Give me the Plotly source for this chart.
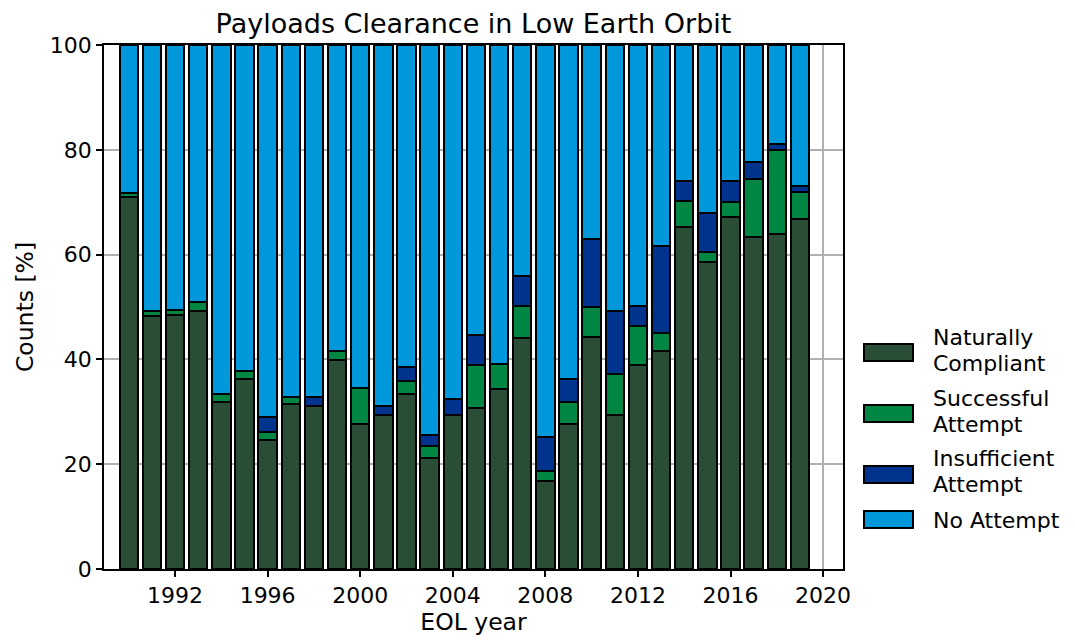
import plotly.graph_objects as go

years = list(range(1990, 2020))

naturally_compliant = [71.0, 48.3, 48.4, 49.2, 31.8, 36.2, 24.6, 31.5, 31.1, 39.8,
                       27.7, 29.3, 33.4, 21.2, 29.4, 30.7, 34.3, 44.1, 16.8, 27.7,
                       44.2, 29.4, 38.9, 41.6, 65.3, 58.5, 67.1, 63.3, 63.9, 66.8]
successful_attempt = [0.8, 0.9, 1.1, 1.8, 1.6, 1.6, 1.5, 1.4, 0.0, 1.8,
                      6.8, 0.0, 2.5, 2.3, 0.0, 8.2, 4.9, 6.0, 1.9, 4.2,
                      5.8, 7.8, 7.4, 3.4, 5.0, 2.0, 3.0, 11.2, 16.1, 5.2]
insufficient_attempt = [0.0, 0.0, 0.0, 0.0, 0.0, 0.0, 3.0, 0.0, 1.7, 0.0,
                        0.0, 1.8, 2.7, 2.1, 3.1, 5.7, 0.0, 5.8, 6.5, 4.4,
                        13.0, 12.0, 3.9, 16.7, 3.8, 7.4, 4.0, 3.2, 1.1, 1.0]
no_attempt = [28.2, 50.8, 50.5, 49.0, 66.6, 62.2, 70.9, 67.1, 67.2, 58.4,
              65.5, 68.9, 61.4, 74.4, 67.5, 55.4, 60.8, 44.1, 74.8, 63.7,
              37.0, 50.8, 49.8, 38.3, 25.9, 32.1, 25.9, 22.3, 18.9, 27.0]

labels = [["Naturally", "Compliant"], ["Successful", "Attempt"],
          ["Insufficient", "Attempt"], ["No Attempt"]]
colors = ["#2a4d35", "#008542", "#00338d", "#0098db"]

font_family = "DejaVu Sans, Verdana, sans-serif"

fig = go.Figure()
for lab, vals, color in zip(labels, [naturally_compliant, successful_attempt,
                                     insufficient_attempt, no_attempt], colors):
    fig.add_trace(go.Bar(x=years, y=vals, name=" ".join(lab), width=0.8, showlegend=False,
                         marker=dict(color=color, line=dict(color="black", width=2))))

# hand-made legend (bigger swatches than plotly's own)
pw, ph = 739.0, 524.0   # plot area in px
sw_left, sw_right, text_left = 864, 913, 932
sw_tops = [344, 405, 466, 511]
line_centres = [[337.5, 363.5], [398.5, 424.5], [458.5, 484.5], [520]]
for i, lab in enumerate(labels):
    top = sw_tops[i]
    fig.add_shape(type="rect", xref="paper", yref="paper",
                  x0=(sw_left - 104) / pw, x1=(sw_right - 104) / pw,
                  y0=(569 - top - 17) / ph, y1=(569 - top) / ph,
                  fillcolor=colors[i], line=dict(color="black", width=2))
    for txt, yc in zip(lab, line_centres[i]):
        fig.add_annotation(text=txt, xref="paper", yref="paper", showarrow=False,
                           x=(text_left - 104) / pw, xanchor="left",
                           y=(569 - yc) / ph, yanchor="middle",
                           borderpad=0, font=dict(size=22, color="black"))

fig.update_layout(
    barmode="stack",
    width=1075, height=641,
    margin=dict(l=96, r=240, t=37, b=80),
    paper_bgcolor="white", plot_bgcolor="white",
    font=dict(family=font_family, size=22, color="black"),
    title=dict(text="Payloads Clearance in Low Earth Orbit", xref="paper", x=0.5,
               xanchor="center", y=0.975, yanchor="middle",
               font=dict(size=27, color="black")),
)

fig.update_xaxes(range=[1988.93, 2020.86], tick0=1992, dtick=4, ticks="outside",
                 ticklen=6, tickwidth=1.5, tickcolor="black",
                 showline=True, linecolor="black", linewidth=1.5, mirror=True,
                 showgrid=True, gridcolor="#b0b0b0", gridwidth=1.5, zeroline=False,
                 title=dict(text="EOL year", standoff=6, font=dict(size=23.5)))
fig.update_yaxes(range=[0, 100], dtick=20, ticks="outside",
                 ticklen=6, tickwidth=1.5, tickcolor="black",
                 showline=True, linecolor="black", linewidth=1.5, mirror=True,
                 showgrid=True, gridcolor="#b0b0b0", gridwidth=1.5, zeroline=False,
                 title=dict(text="Counts [%]", standoff=10, font=dict(size=23.5)))

fig.write_html("out.html")
